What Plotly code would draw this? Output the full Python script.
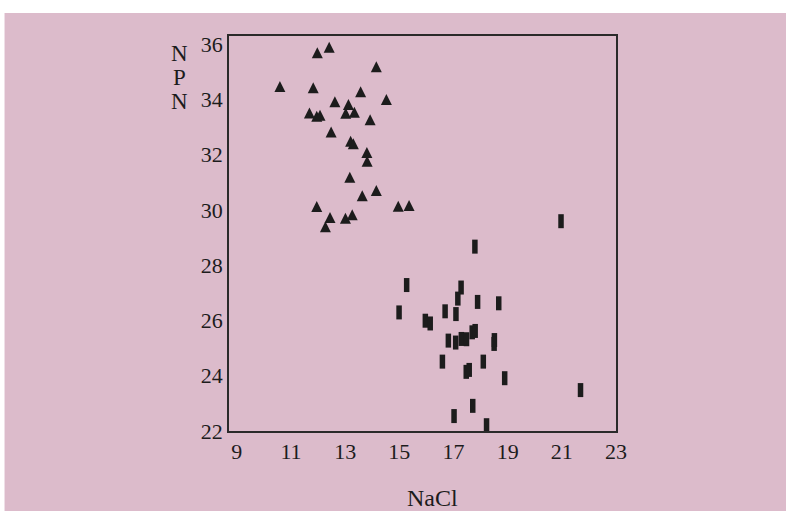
import plotly.graph_objects as go

# Triangle series (NaCl, NPN)
tri_nacl = [11.97, 12.41, 14.15, 10.59, 11.82, 13.57, 14.52, 12.62, 13.12, 11.68,
            11.95, 12.07, 13.02, 13.34, 13.92, 12.48, 13.20, 13.30, 13.80, 13.81,
            13.17, 14.15, 13.63, 11.95, 14.96, 15.36, 12.44, 13.01, 13.26, 12.27]
tri_npn = [35.88, 36.08, 35.38, 34.66, 34.62, 34.47, 34.19, 34.11, 34.01, 33.70,
           33.59, 33.62, 33.69, 33.73, 33.46, 33.02, 32.68, 32.59, 32.27, 31.96,
           31.38, 30.90, 30.71, 30.32, 30.33, 30.36, 29.92, 29.90, 30.02, 29.59]

# Rectangle series (NaCl, NPN)
sq_nacl = [17.79, 20.97, 15.27, 17.28, 17.16, 17.89, 18.67, 14.99, 16.69, 17.09,
           15.96, 16.14, 16.81, 17.08, 17.29, 17.48, 17.69, 17.80, 18.51, 18.50,
           16.59, 18.10, 17.58, 17.47, 18.89, 21.69, 17.71, 17.02, 18.22]
sq_npn = [28.67, 29.59, 27.28, 27.19, 26.79, 26.67, 26.62, 26.29, 26.33, 26.23,
          25.99, 25.89, 25.27, 25.20, 25.33, 25.32, 25.57, 25.62, 25.29, 25.15,
          24.51, 24.51, 24.21, 24.14, 23.91, 23.48, 22.91, 22.54, 22.21]

x_ticks = [9, 11, 13, 15, 17, 19, 21, 23]
y_ticks = [22, 24, 26, 28, 30, 32, 34, 36]

PINK = "#dcbbcb"
INK = "#1c1c1c"
FONT = "Liberation Serif, Times New Roman, serif"

fig = go.Figure()
fig.add_trace(go.Scatter(
    x=tri_nacl, y=tri_npn, mode="markers",
    marker=dict(symbol="arrow-up", size=11, color=INK, line=dict(width=0)),
    showlegend=False))
fig.add_trace(go.Scatter(
    x=sq_nacl, y=sq_npn, mode="markers",
    marker=dict(symbol="line-ns", size=10, color=INK,
                line=dict(width=5.5, color=INK)),
    showlegend=False))

fig.add_shape(type="rect", xref="paper", yref="paper",
              x0=-0.58, x1=1.6, y0=-0.4, y1=1.058,
              fillcolor=PINK, line=dict(width=0), layer="below")

fig.add_annotation(text="NaCl", xref="paper", yref="paper", x=0.525, y=-0.17,
                   xanchor="center", yanchor="middle", showarrow=False,
                   font=dict(family=FONT, size=24, color=INK))
for txt, py in [("N", 53), ("P", 77), ("N", 101)]:
    fig.add_annotation(text=txt, xref="paper", yref="paper",
                       x=(179 - 229) / 387, y=(431 - py) / 395,
                       xanchor="center", yanchor="middle", showarrow=False,
                       font=dict(family=FONT, size=23, color=INK))

axis_common = dict(showgrid=False, zeroline=False, showline=True, mirror=True,
                   linecolor="#2a2a2a", linewidth=1.5, ticks="",
                   tickfont=dict(family=FONT, size=22, color=INK))
fig.update_xaxes(range=[8.71, 23.0], tickvals=x_ticks, **axis_common)
fig.update_yaxes(range=[22.0, 36.29], tickvals=y_ticks, ticklabelstandoff=0,
                 **axis_common)

fig.update_layout(width=786, height=511,
                  margin=dict(l=229, r=170, t=36, b=80),
                  paper_bgcolor="white", plot_bgcolor=PINK)

fig.write_html("out.html",
               config={"displayModeBar": False},
               post_script="document.body.style.margin='0';"
                           "document.body.style.overflow='hidden';")
